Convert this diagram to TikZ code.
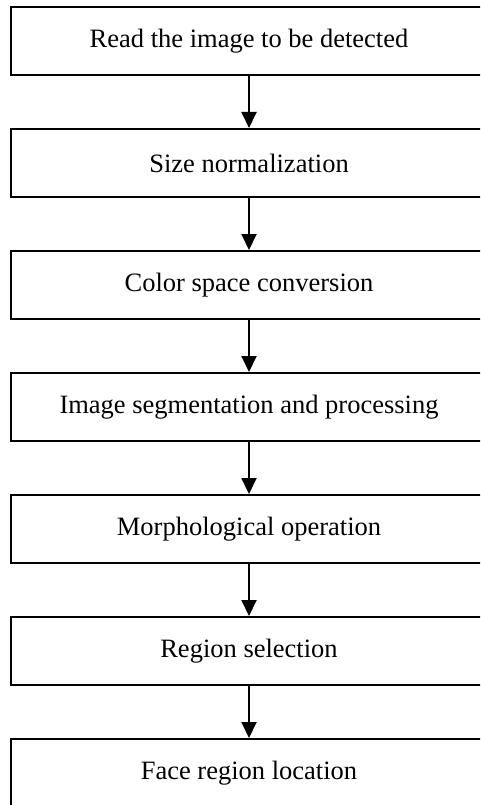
\documentclass[tikz,border=0pt]{standalone}
\usepackage{fontspec}
\setmainfont{Liberation Serif}
\usetikzlibrary{arrows.meta,positioning}

\begin{document}
\begin{tikzpicture}[x=1pt, y=1pt, node distance=122pt, auto,
    stage/.style={rectangle, draw, line width=2pt, minimum width=477pt, minimum height=68pt, inner sep=0pt, text centered, font=\fontsize{26.5}{30}\selectfont},
    flow/.style={-{Triangle[width=15pt,length=16pt]}, line width=2pt}]
    \useasboundingbox (0,0) rectangle (480,-805);
    \clip (0,0) rectangle (480,-805);
    \node (read) [stage] at (249,-41) {Read the image to be detected};
    \node (resize) [stage, below of=read] {Size normalization};
    \node (colorspace) [stage, below of=resize] {Color space conversion};
    \node (segment) [stage, below of=colorspace] {Image segmentation and processing};
    \node (morph) [stage, below of=segment] {Morphological operation};
    \node (select) [stage, below of=morph] {Region selection};
    \node (locate) [stage, below of=select] {Face region location};
    
    \draw[flow] (read) -- (resize);
    \draw[flow] (resize) -- (colorspace);
    \draw[flow] (colorspace) -- (segment);
    \draw[flow] (segment) -- (morph);
    \draw[flow] (morph) -- (select);
    \draw[flow] (select) -- (locate);
\end{tikzpicture}
\end{document}
